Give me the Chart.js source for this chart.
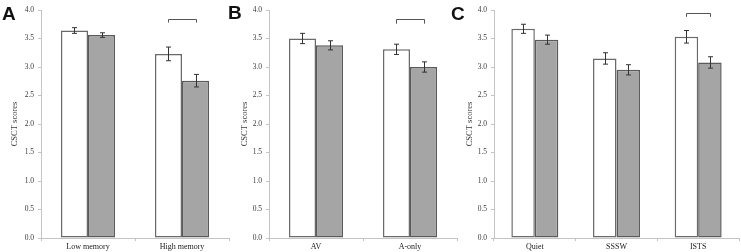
<!DOCTYPE html>
<html>
<head>
<meta charset="utf-8">
<script src="https://cdn.jsdelivr.net/npm/chart.js@4.4.1/dist/chart.umd.min.js"></script>
<style>
  body { margin: 0; background: #fff; }
  #wrap { position: relative; width: 741px; height: 252px; overflow: hidden; }
  canvas { position: absolute; top: 0; }
  .tag { position: absolute; font: bold 19px "Liberation Sans", Arial, sans-serif; color: #111; line-height: 19px; }
</style>
</head>
<body>
<div id="wrap">
  <canvas id="chartA" style="left:0px" width="232" height="252"></canvas>
  <canvas id="chartB" style="left:228px" width="232" height="252"></canvas>
  <canvas id="chartC" style="left:453px" width="288" height="252"></canvas>
  <div class="tag" style="left:2px;top:4px">A</div>
  <div class="tag" style="left:228px;top:3px">B</div>
  <div class="tag" style="left:451px;top:4px">C</div>
</div>
<script>
// panel A: memory groups
var labelsA = ['Low memory', 'High memory'];
var whiteA = [3.64, 3.23];
var grayA = [3.56, 2.76];
var whiteErrA = [0.05, 0.12];
var grayErrA = [0.04, 0.11];

// panel B: presentation mode
var labelsB = ['AV', 'A-only'];
var whiteB = [3.50, 3.31];
var grayB = [3.38, 3.00];
var whiteErrB = [0.09, 0.09];
var grayErrB = [0.08, 0.09];

// panel C: noise type
var labelsC = ['Quiet', 'SSSW', 'ISTS'];
var whiteC = [3.67, 3.15, 3.53];
var grayC = [3.48, 2.95, 3.08];
var whiteErrC = [0.08, 0.10, 0.11];
var grayErrC = [0.08, 0.09, 0.10];

var yTicks = [0, 0.5, 1, 1.5, 2, 2.5, 3, 3.5, 4];

var serif = '"Liberation Serif", "Times New Roman", serif';

// error bars + significance bracket drawn from the scales
var errorPlugin = {
  id: 'errs',
  afterDatasetsDraw: function (chart) {
    var ctx = chart.ctx;
    var y = chart.scales.y;
    var extra = chart.options.plugins.errs;
    ctx.save();
    ctx.strokeStyle = '#333';
    ctx.lineWidth = 1;
    chart.data.datasets.forEach(function (ds, di) {
      var meta = chart.getDatasetMeta(di);
      meta.data.forEach(function (bar, i) {
        var v = ds.data[i], e = ds.errors[i];
        var x = Math.round(bar.x) + 0.5;
        var y1 = y.getPixelForValue(v + e), y2 = y.getPixelForValue(v - e);
        ctx.beginPath();
        ctx.moveTo(x, y1); ctx.lineTo(x, y2);
        ctx.moveTo(x - 2.5, y1); ctx.lineTo(x + 2.5, y1);
        ctx.moveTo(x - 2.5, y2); ctx.lineTo(x + 2.5, y2);
        ctx.stroke();
      });
    });
    if (extra && extra.index != null) {
      var a = chart.getDatasetMeta(0).data[extra.index];
      var b = chart.getDatasetMeta(1).data[extra.index];
      var top = Math.round(y.getPixelForValue(extra.top)) + 0.5;
      var bot = y.getPixelForValue(extra.bottom);
      ctx.strokeStyle = '#555';
      ctx.beginPath();
      ctx.moveTo(Math.round(a.x) + 0.5, bot);
      ctx.lineTo(Math.round(a.x) + 0.5, top);
      ctx.lineTo(Math.round(b.x) + 0.5, top);
      ctx.lineTo(Math.round(b.x) + 0.5, bot);
      ctx.stroke();
    }
    ctx.restore();
  }
};

function makeChart(id, labels, white, gray, whiteErr, grayErr, opts) {
  return new Chart(document.getElementById(id).getContext('2d'), {
    type: 'bar',
    data: {
      labels: labels,
      datasets: [{
        data: white,
        errors: whiteErr,
        backgroundColor: '#ffffff',
        borderColor: '#6a6a6a',
        borderWidth: 1.5,
        borderSkipped: false
      }, {
        data: gray,
        errors: grayErr,
        backgroundColor: '#a5a5a5',
        borderColor: '#5a5a5a',
        borderWidth: 1.5,
        borderSkipped: false
      }]
    },
    options: {
      responsive: false,
      animation: false,
      categoryPercentage: 0.575,
      barPercentage: 1,
      layout: { padding: { top: 10, right: opts.right, bottom: 0, left: 0 } },
      plugins: {
        legend: { display: false },
        tooltip: { enabled: false },
        errs: opts.bracket
      },
      scales: {
        x: {
          afterFit: function (s) { s.height = 14; },
          grid: { drawOnChartArea: false, drawTicks: true, tickLength: 3, color: '#c4c4c4', offset: true },
          border: { color: '#c4c4c4', width: 1 },
          ticks: { color: '#1a1a1a', font: { family: serif, size: 8 }, padding: 1 }
        },
        y: {
          min: 0,
          max: 4,
          afterFit: function (s) { s.width = 41; },
          afterBuildTicks: function (s) { s.ticks = yTicks.map(function (v) { return { value: v }; }); },
          grid: { drawOnChartArea: false, drawTicks: true, tickLength: 3, color: '#c4c4c4' },
          border: { color: '#c4c4c4', width: 1 },
          ticks: {
            color: '#3a3a3a',
            font: { family: serif, size: 7.5 },
            padding: 4,
            callback: function (v) { return Number(v).toFixed(1); }
          },
          title: {
            display: true,
            text: 'CSCT scores',
            color: '#3a3a3a',
            font: { family: serif, size: 8.5 },
            padding: { top: opts.titlePad, bottom: 0 }
          }
        }
      }
    },
    plugins: [errorPlugin]
  });
}

makeChart('chartA', labelsA, whiteA, grayA, whiteErrA, grayErrA,
  { right: 3, titlePad: 9.5, bracket: { index: 1, top: 3.84, bottom: 3.78 } });
makeChart('chartB', labelsB, whiteB, grayB, whiteErrB, grayErrB,
  { right: 3, titlePad: 11.8, bracket: { index: 1, top: 3.84, bottom: 3.76 } });
makeChart('chartC', labelsC, whiteC, grayC, whiteErrC, grayErrC,
  { right: 2, titlePad: 11.8, bracket: { index: 2, top: 3.95, bottom: 3.88 } });
</script>
</body>
</html>
